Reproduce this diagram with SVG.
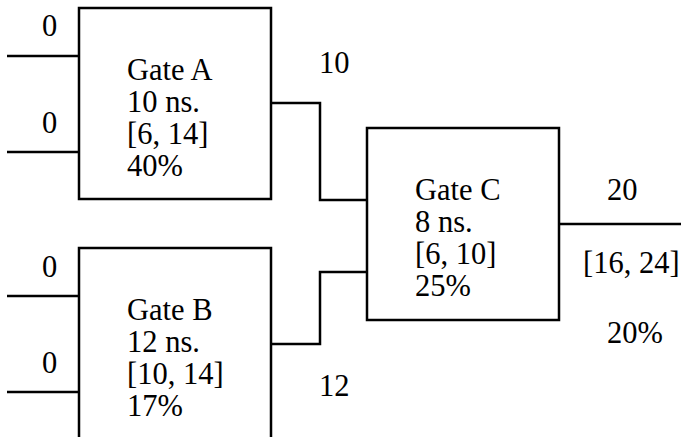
<svg xmlns="http://www.w3.org/2000/svg" width="681" height="437" viewBox="0 0 681 437">
  <style>
    .box { fill: #ffffff; stroke: #000000; stroke-width: 2.5; }
    .wire { fill: none; stroke: #000000; stroke-width: 2.5; }
    .t { font-family: "Liberation Serif", "Times New Roman", serif; font-size: 30.5px; fill: #000000; }
  </style>
  <rect width="681" height="437" fill="#ffffff"/>

  <!-- wires between gates and to the outside -->
  <g id="connectors">
    <line class="wire" x1="7" y1="56" x2="79" y2="56"/>
    <line class="wire" x1="7" y1="152" x2="79" y2="152"/>
    <line class="wire" x1="7" y1="296" x2="79" y2="296"/>
    <line class="wire" x1="7" y1="392" x2="79" y2="392"/>
    <polyline class="wire" points="271,103 320,103 320,200 367,200"/>
    <polyline class="wire" points="271,344 320,344 320,272 367,272"/>
    <line class="wire" x1="559" y1="224" x2="681" y2="224"/>
  </g>

  <!-- wire value labels -->
  <g id="wire-labels" class="t">
    <text x="42" y="36">0</text>
    <text x="42" y="133">0</text>
    <text x="42" y="277">0</text>
    <text x="42" y="373">0</text>
    <text x="319" y="73">10</text>
    <text x="319" y="396">12</text>
    <text x="607" y="200">20</text>
    <text x="583" y="273">[16, 24]</text>
    <text x="607" y="343">20%</text>
  </g>

  <g id="gate-a">
    <rect class="box" x="79" y="8" width="192" height="191"/>
    <g class="t">
      <text x="127" y="80">Gate A</text>
      <text x="127" y="112">10 ns.</text>
      <text x="127" y="144">[6, 14]</text>
      <text x="127" y="176">40%</text>
    </g>
  </g>

  <g id="gate-b">
    <rect class="box" x="79" y="248" width="192" height="220"/>
    <g class="t">
      <text x="127" y="320">Gate B</text>
      <text x="127" y="352">12 ns.</text>
      <text x="127" y="384">[10, 14]</text>
      <text x="127" y="416">17%</text>
    </g>
  </g>

  <g id="gate-c">
    <rect class="box" x="367" y="128" width="192" height="192"/>
    <g class="t">
      <text x="415" y="200">Gate C</text>
      <text x="415" y="232">8 ns.</text>
      <text x="415" y="264">[6, 10]</text>
      <text x="415" y="296">25%</text>
    </g>
  </g>
</svg>
